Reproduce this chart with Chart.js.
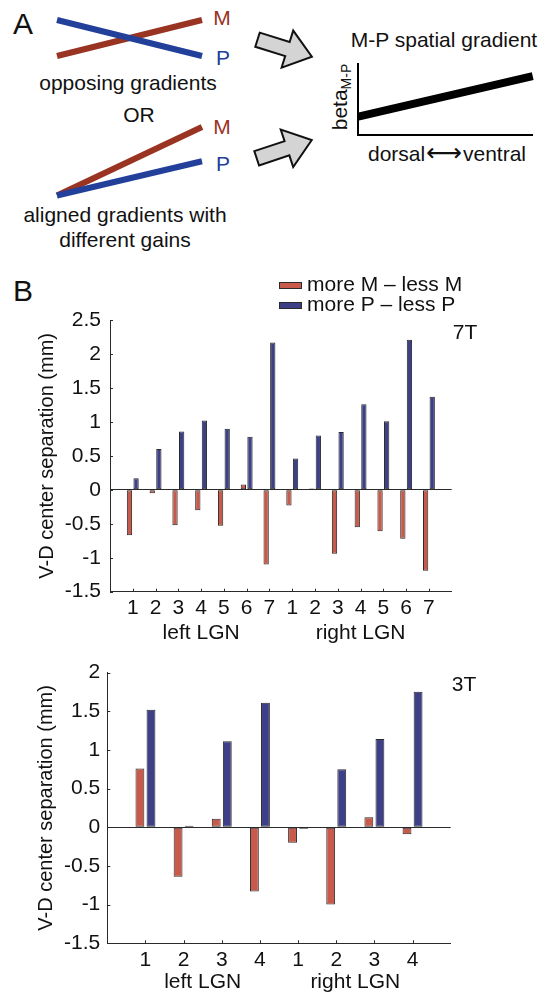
<!DOCTYPE html>
<html>
<head>
<meta charset="utf-8">
<script src="https://cdn.jsdelivr.net/npm/chart.js@4.4.0/dist/chart.umd.min.js"></script>
<style>
  html, body { margin: 0; padding: 0; background: #fff; }
  #fig { position: relative; width: 543px; height: 996px; overflow: hidden;
         font-family: "Liberation Sans", Arial, Helvetica, sans-serif; color: #111; }
  #fig canvas { position: absolute; }
  .lbl { position: absolute; font-size: 21px; line-height: 1; white-space: nowrap;
         transform: translate(-50%, -50%); }
  .tag { font-size: 30px; }
  .m { color: #993322; }
  .p { color: #22409a; }
  .rot { transform: translate(-50%, -50%) rotate(-90deg); }
  .rot sub { font-size: 14px; vertical-align: -4px; }
  .arr { font-family: "DejaVu Sans", sans-serif; font-size: 25px; margin: 0 1px; }
</style>
</head>
<body>
<div id="fig">
  <div class="lbl tag" style="left:23px;top:24px">A</div>
  <div class="lbl m" style="left:222px;top:17px">M</div>
  <div class="lbl p" style="left:223px;top:57px">P</div>
  <div class="lbl" style="left:128px;top:82px">opposing gradients</div>
  <div class="lbl" style="left:139px;top:114px">OR</div>
  <div class="lbl m" style="left:222px;top:126px">M</div>
  <div class="lbl p" style="left:223px;top:163px">P</div>
  <div class="lbl" style="left:125px;top:214px">aligned gradients with</div>
  <div class="lbl" style="left:125px;top:239px">different gains</div>
  <div class="lbl" style="left:444px;top:39px">M-P spatial gradient</div>
  <div class="lbl rot" style="left:341px;top:97px">beta<sub>M-P</sub></div>
  <div class="lbl" style="left:447px;top:152px">dorsal<span class="arr">⟷</span>ventral</div>
  <div class="lbl tag" style="left:23px;top:291px">B</div>

  <canvas id="gradOpposing" width="180" height="75" style="left:40px;top:0"></canvas>
  <canvas id="gradAligned" width="180" height="100" style="left:40px;top:110px"></canvas>
  <canvas id="gradMP" width="303" height="175" style="left:240px;top:0"></canvas>
  <canvas id="chart7T" width="543" height="375" style="left:0;top:270px"></canvas>
  <canvas id="chart3T" width="543" height="351" style="left:0;top:645px"></canvas>
</div>
<script>
// ---- data ----
const seriesNames = ['more M \u2013 less M', 'more P \u2013 less P'];
const hemispheres = ['left LGN', 'right LGN'];

const lgnLabels7T = ['1', '2', '3', '4', '5', '6', '7', '1', '2', '3', '4', '5', '6', '7'];
const moreM7T = [-0.67, -0.05, -0.52, -0.30, -0.53, 0.08, -1.10, -0.23, 0.02, -0.94, -0.55, -0.61, -0.72, -1.19];
const moreP7T = [0.17, 0.60, 0.86, 1.02, 0.90, 0.78, 2.17, 0.46, 0.80, 0.85, 1.26, 1.01, 2.21, 1.37];

const lgnLabels3T = ['1', '2', '3', '4', '1', '2', '3', '4'];
const moreM3T = [0.76, -0.64, 0.11, -0.83, -0.20, -1.00, 0.13, -0.09];
const moreP3T = [1.52, 0.02, 1.11, 1.61, -0.02, 0.75, 1.14, 1.75];

// schematic gradients (dorsal -> ventral)
const gradientPos = [0, 1];
const opposingM = [0, 1];
const opposingP = [1, 0];
const alignedM = [0, 1];
const alignedP = [0, 0.5];
const betaMP = [0.26, 0.83];

// ---- style ----
const FONT = '"Liberation Sans", Arial, Helvetica, sans-serif';
const TEXT = '#111';
const AXIS = '#2a2a2a';
const BAR_M = '#c85a4b';
const BAR_P = '#3e4087';
const BAR_EDGE = '#2a2a2a';
const LINE_M = '#993322';
const LINE_P = '#22409a';

Chart.defaults.font.family = FONT;
Chart.defaults.color = TEXT;

// block arrows between the two schemes and the M-P panel (canvas px of gradMP)
const arrowOutline = [[0, -0.13], [0.55, -0.13], [0.55, -0.34], [1, 0], [0.55, 0.34], [0.55, 0.13], [0, 0.13]];
const arrowPlacement = [
  { x: 17.5, y: 39.7, angle: 17.4, length: 57 },
  { x: 16.7, y: 158.3, angle: -18.4, length: 58 }
];

const blockArrows = {
  id: 'blockArrows',
  afterDraw(chart) {
    const ctx = chart.ctx;
    ctx.save();
    ctx.fillStyle = '#d4d4d4';
    ctx.strokeStyle = '#111';
    ctx.lineWidth = 2;
    ctx.lineJoin = 'miter';
    arrowPlacement.forEach(a => {
      const c = Math.cos(a.angle * Math.PI / 180);
      const s = Math.sin(a.angle * Math.PI / 180);
      ctx.beginPath();
      arrowOutline.forEach(([u, v], i) => {
        const px = a.x + a.length * (u * c - v * s);
        const py = a.y + a.length * (u * s + v * c);
        if (i === 0) ctx.moveTo(px, py); else ctx.lineTo(px, py);
      });
      ctx.closePath();
      ctx.fill();
      ctx.stroke();
    });
    ctx.restore();
  }
};

function gradientLine(vals, color, width) {
  return {
    data: gradientPos.map((x, i) => ({ x, y: vals[i] })),
    borderColor: color,
    borderWidth: width,
    pointRadius: 0,
    borderCapStyle: 'butt',
    tension: 0,
    clip: false
  };
}

function buildGradientPair(id, mVals, pVals, padding) {
  return new Chart(document.getElementById(id), {
    type: 'line',
    data: {
      // P first so it is drawn over M
      datasets: [gradientLine(pVals, LINE_P, 6), gradientLine(mVals, LINE_M, 6)]
    },
    options: {
      responsive: false,
      animation: false,
      layout: { padding, autoPadding: false },
      plugins: { legend: { display: false }, tooltip: { enabled: false } },
      scales: {
        x: { type: 'linear', display: false, min: 0, max: 1 },
        y: { display: false, min: 0, max: 1 }
      }
    }
  });
}

buildGradientPair('gradOpposing', opposingM, opposingP, { left: 17, right: 18, top: 20, bottom: 19 });
buildGradientPair('gradAligned', alignedM, alignedP, { left: 17, right: 18, top: 17, bottom: 14.5 });

new Chart(document.getElementById('gradMP'), {
  type: 'line',
  data: { datasets: [gradientLine(betaMP, '#000', 8)] },
  options: {
    responsive: false,
    animation: false,
    layout: { padding: { left: 118.3, right: 10.3, top: 64, bottom: 40 }, autoPadding: false },
    plugins: { legend: { display: false }, tooltip: { enabled: false } },
    scales: {
      x: {
        type: 'linear', min: 0, max: 1,
        grid: { display: false, drawTicks: false }, ticks: { display: false },
        border: { display: true, color: '#000', width: 2 },
        afterFit: s => { s.height = 0; }
      },
      y: {
        min: 0, max: 1,
        grid: { display: false, drawTicks: false }, ticks: { display: false },
        border: { display: true, color: '#000', width: 2 },
        afterFit: s => { s.width = 0; }
      }
    }
  },
  plugins: [blockArrows]
});

// tick marks inside the axes, hemisphere labels, field tag and legend
const lgnDecor = {
  id: 'lgnDecor',
  afterDraw(chart, args, opts) {
    const { ctx, chartArea } = chart;
    const xs = chart.scales.x;
    const ys = chart.scales.y;
    ctx.save();
    ctx.strokeStyle = AXIS;
    ctx.lineWidth = 1;
    ctx.beginPath();
    xs.ticks.forEach(t => {
      if (t.value < 1 || t.value > xs.max - 1) return;
      const px = Math.round(xs.getPixelForValue(t.value)) + 0.5;
      ctx.moveTo(px, chartArea.bottom);
      ctx.lineTo(px, chartArea.bottom - 3);
    });
    ys.ticks.forEach(t => {
      const py = Math.round(ys.getPixelForValue(t.value)) + 0.5;
      ctx.moveTo(chartArea.left, py);
      ctx.lineTo(chartArea.left + 3, py);
    });
    ctx.stroke();

    ctx.fillStyle = TEXT;
    ctx.font = '21px ' + FONT;
    ctx.textAlign = 'center';
    ctx.textBaseline = 'middle';
    const half = opts.count / 2;
    hemispheres.forEach((name, h) => {
      const centre = h * half + (1 + half) / 2;
      ctx.fillText(name, xs.getPixelForValue(centre), chartArea.bottom + opts.groupGap);
    });

    ctx.textAlign = 'left';
    ctx.fillText(opts.tag, chartArea.right + 1, chartArea.top + 13);

    if (opts.legend) {
      chart.data.datasets.forEach((ds, i) => {
        const y = chartArea.top - 35 + i * 20;
        ctx.fillStyle = ds.backgroundColor;
        ctx.fillRect(279, y - 3, 23, 6);
        ctx.strokeStyle = BAR_EDGE;
        ctx.strokeRect(279.5, y - 2.5, 22, 6);
        ctx.fillStyle = TEXT;
        ctx.fillText(ds.label, 307, y);
      });
    }
    ctx.restore();
  }
};

function barSeries(label, vals, color) {
  return {
    label,
    data: vals.map((v, i) => ({ x: i + 1, y: v })),
    backgroundColor: color,
    borderColor: BAR_EDGE,
    borderWidth: 1,
    borderSkipped: false,
    categoryPercentage: 0.58,
    barPercentage: 0.8
  };
}

function buildLgnChart(id, spec) {
  const n = spec.labels.length;
  return new Chart(document.getElementById(id), {
    type: 'bar',
    data: {
      datasets: [
        barSeries(seriesNames[0], spec.moreM, BAR_M),
        barSeries(seriesNames[1], spec.moreP, BAR_P)
      ]
    },
    options: {
      responsive: false,
      animation: false,
      layout: { padding: { left: 0, top: spec.top, right: spec.right, bottom: 0 }, autoPadding: false },
      plugins: {
        legend: { display: false },
        tooltip: { enabled: false },
        lgnDecor: { count: n, tag: spec.tag, legend: spec.legend, groupGap: spec.groupGap }
      },
      scales: {
        x: {
          type: 'linear', min: 0, max: n + 1, offset: false,
          grid: { display: false, drawTicks: false },
          border: { color: AXIS, width: 1 },
          ticks: {
            stepSize: 1, autoSkip: false, maxRotation: 0, padding: 4,
            font: { size: 21 },
            callback: v => spec.labels[v - 1] ?? ''
          },
          afterFit: s => { s.height = spec.xHeight; }
        },
        y: {
          min: spec.min, max: spec.max,
          grid: {
            drawTicks: false,
            lineWidth: 1,
            color: c => (c.tick && c.tick.value === 0 ? AXIS : 'rgba(0,0,0,0)')
          },
          border: { color: AXIS, width: 1 },
          ticks: { stepSize: 0.5, padding: spec.tickPad, font: { size: 21 }, callback: v => String(v) },
          title: {
            display: true,
            text: 'V-D center separation (mm)',
            font: { size: 20 },
            padding: { top: spec.titlePad, bottom: 0 }
          },
          afterFit: s => { s.width = spec.yWidth; }
        }
      }
    },
    plugins: [lgnDecor]
  });
}

buildLgnChart('chart7T', {
  labels: lgnLabels7T, moreM: moreM7T, moreP: moreP7T,
  min: -1.5, max: 2.5, tag: '7T', legend: true,
  top: 50, right: 91.3, xHeight: 53.3, yWidth: 110,
  tickPad: 9, titlePad: 35, groupGap: 42
});

buildLgnChart('chart3T', {
  labels: lgnLabels3T, moreM: moreM3T, moreP: moreP3T,
  min: -1.5, max: 2, tag: '3T', legend: false,
  top: 27.5, right: 92.3, xHeight: 52.7, yWidth: 107.3,
  tickPad: 7, titlePad: 34, groupGap: 39
});
</script>
</body>
</html>
